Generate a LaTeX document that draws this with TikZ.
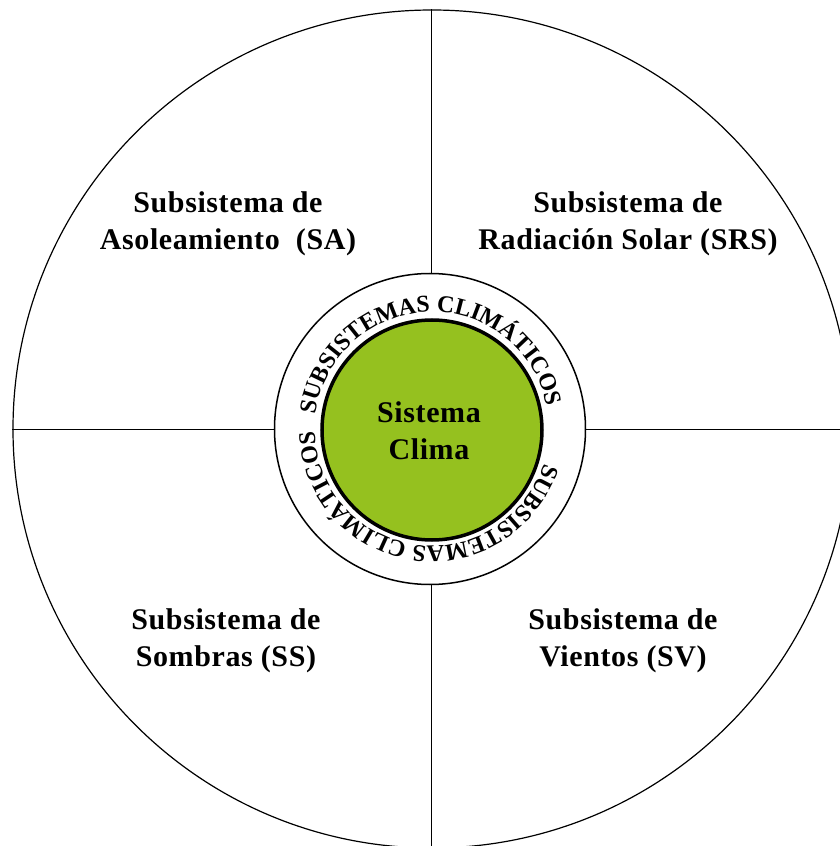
\documentclass[tikz,border=0pt]{standalone}
\usepackage{fontspec}
\setmainfont{Liberation Serif}
\newfontfamily\spacedfont{Liberation Serif}[LetterSpace=2]
\usetikzlibrary{decorations.text}
\definecolor{climagreen}{RGB}{149,193,31}

\begin{document}
\begin{tikzpicture}[x=1pt,y=1pt,
	sublabel/.style={align=center,font=\spacedfont\fontsize{30}{37}\selectfont\bfseries},
	disk/.style={circle,draw,inner sep=0pt},
	ringtext/.style={decorate,decoration={text along path,text align=center,
		text={|\fontsize{24}{24}\selectfont\bfseries|SUBSISTEMAS CLIMÁTICOS}}}]
%	\draw [step=50pt,thin,dotted,draw=black!40] (-432,-417) grid (408,429);
	\useasboundingbox (-432,-417) rectangle (408,429);
	\clip (-432,-417) rectangle (408,429);

	% outer disc and its quadrants
	\node [disk, line width=1.2pt, minimum size=838pt] (disc) at (0,0) {};
	\draw [line width=1pt] (disc.north) -- (disc.south);
	\draw [line width=1pt] (disc.west) -- (disc.east);

	% ring and core
	\node [disk, fill=white, line width=1.5pt, minimum size=311pt] (ring) at (-2,0) {};
	\node [disk, fill=climagreen, line width=3.5pt, minimum size=220pt] (core) at (0,-1) {};
	\path [ringtext] (182:117) arc [start angle=182, end angle=2, radius=117];
	\path [ringtext] (-8:117) arc [start angle=-8, end angle=-188, radius=117];

	\node [sublabel] (clima) at (-3,-2) {Sistema\\Clima};

	\node [sublabel] (sa) at (-204,205) {Subsistema de\\Asoleamiento\ \ (SA)};
	\node [sublabel] (srs) at (196,205) {Subsistema de\\Radiación Solar (SRS)};
	\node [sublabel] (ss) at (-206,-212) {Subsistema de\\Sombras (SS)};
	\node [sublabel] (sv) at (191,-212) {Subsistema de\\Vientos (SV)};
\end{tikzpicture}
\end{document}
